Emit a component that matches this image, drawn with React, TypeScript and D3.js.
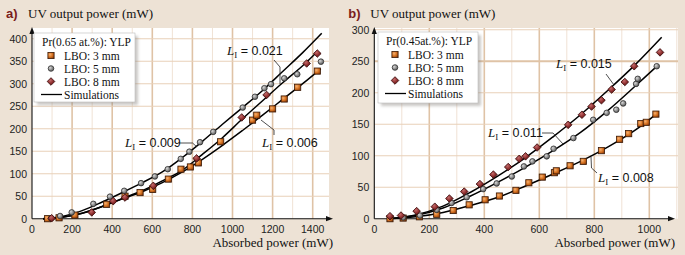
import React from 'react';
import * as d3 from 'd3';

type P = [number, number];

// ---------- Panel a data ----------
const A_X_TICKS = [0, 200, 400, 600, 800, 1000, 1200, 1400];
const A_Y_TICKS = [0, 50, 100, 150, 200, 250, 300, 350, 400];
const A_LEGEND_TITLE = 'Pr(0.65 at.%): YLP';

const A_LBO3: P[] = [
  [78, 0], [135, 2], [214, 8], [372, 32], [464, 50], [539, 58], [602, 65], [680, 88],
  [743, 110], [790, 115], [830, 124], [941, 171], [1100, 219], [1121, 230], [1200, 244],
  [1258, 266], [1325, 292], [1423, 328],
];
const A_LBO5: P[] = [
  [95, 1], [140, 6], [198, 14], [306, 33], [389, 49], [460, 62], [544, 79], [613, 94],
  [677, 110], [742, 133], [785, 149], [838, 170], [904, 193], [1051, 247], [1112, 271],
  [1159, 290], [1192, 299], [1258, 312], [1323, 321], [1441, 349],
];
const A_LBO8: P[] = [
  [98, 1], [298, 14], [405, 39], [464, 47], [605, 73], [821, 134], [1046, 225],
  [1170, 275], [1370, 345], [1423, 367],
];
const A_SIM_009: P[] = [
  [55, 0], [150, 5], [250, 18], [350, 37], [450, 58], [550, 80], [650, 104], [750, 136],
  [850, 172], [950, 210], [1050, 247], [1150, 285], [1250, 327], [1350, 369], [1445, 412],
];
const A_SIM_021: P[] = [
  [55, 0], [150, 3], [250, 12], [350, 27], [450, 45], [550, 62], [650, 84], [750, 108],
  [850, 143], [950, 180], [1050, 222], [1150, 262], [1250, 302], [1350, 340], [1420, 370],
];
const A_SIM_006: P[] = [
  [55, 0], [150, 3], [250, 12], [350, 27], [450, 44], [550, 60], [650, 80], [750, 104],
  [850, 132], [950, 163], [1050, 196], [1150, 230], [1250, 265], [1350, 300], [1440, 333],
];

// ---------- Panel b data ----------
const B_X_TICKS = [0, 200, 400, 600, 800, 1000];
const B_Y_TICKS = [0, 50, 100, 150, 200, 250, 300];
const B_LEGEND_TITLE = 'Pr(0.45at.%): YLP';

const B_LBO3: P[] = [
  [57, 0], [105, 1], [164, 3], [227, 7], [287, 13], [345, 22], [403, 30], [455, 36],
  [515, 45], [562, 57], [611, 66], [655, 73], [662, 76], [712, 84], [760, 91], [826, 108],
  [892, 126], [925, 135], [969, 151], [989, 153], [1024, 166],
];
const B_LBO5: P[] = [
  [105, 2], [166, 5], [227, 14], [281, 25], [336, 34], [396, 47], [445, 56], [500, 67],
  [544, 83], [575, 91], [627, 99], [652, 111], [724, 128], [796, 157], [845, 168],
  [880, 173], [905, 183], [952, 214], [958, 222], [1027, 242],
];
const B_LBO8: P[] = [
  [57, 4], [97, 5], [154, 12], [220, 19], [273, 32], [327, 43], [384, 55], [433, 70],
  [487, 82], [527, 95], [550, 99], [592, 113], [705, 149], [755, 165], [790, 178],
  [826, 188], [863, 205], [911, 217], [945, 242], [1039, 264],
];
const B_SIM_015: P[] = [
  [50, 0], [150, 6], [250, 20], [350, 42], [450, 68], [550, 97], [650, 130], [750, 165],
  [850, 204], [950, 245], [1045, 288],
];
const B_SIM_011: P[] = [
  [50, 0], [150, 5], [250, 17], [350, 36], [450, 58], [550, 82], [650, 108], [750, 137],
  [850, 172], [950, 211], [1030, 243],
];
const B_SIM_008: P[] = [
  [50, 0], [150, 3], [250, 10], [350, 21], [450, 34], [550, 52], [650, 71], [750, 91],
  [850, 114], [950, 141], [1025, 166],
];

const SERIES_LABELS = ['LBO: 3 mm', 'LBO: 5 mm', 'LBO: 8 mm', 'Simulations'];
const Y_TITLE = 'UV output power (mW)';
const X_TITLE = 'Absorbed power (mW)';

const SERIF = '"Liberation Serif", "DejaVu Serif", serif';
const SANS = '"Liberation Sans", Arial, sans-serif';
const BG = '#ede2d5';
const GRID_MAJ = '#dfc3a6';
const GRID_MIN = '#f0e2d4';
const GRID_H = '#e8d0b8';

type Shape = 'square' | 'circle' | 'diamond';

function Marker({ x, y, shape }: { x: number; y: number; shape: Shape }) {
  if (shape === 'square')
    return <rect x={x - 3.1} y={y - 3.1} width={6.2} height={6.2} fill="url(#gSq)" stroke="#3a1804" strokeWidth={0.8} />;
  if (shape === 'circle')
    return <circle cx={x} cy={y} r={2.8} fill="url(#gCi)" stroke="#2e2e2e" strokeWidth={0.8} />;
  const s = 3.8;
  return (
    <path d={`M${x},${y - s}L${x + s},${y}L${x},${y + s}L${x - s},${y}Z`} fill="url(#gDi)" stroke="#360808" strokeWidth={0.8} />
  );
}

function LI({ x, y, val }: { x: number; y: number; val: string }) {
  return (
    <text x={x} y={y} fontFamily={SERIF} fontSize={13} fill="#111">
      <tspan fontStyle="italic">L</tspan>
      <tspan fontSize={9} dy={2.5}>I</tspan>
      <tspan dy={-2.5} fontFamily={SANS} fontSize={12.5}> = {val}</tspan>
    </text>
  );
}

type PanelProps = {
  letter: string;
  x: d3.ScaleLinear<number, number>;
  y: d3.ScaleLinear<number, number>;
  xTicks: number[];
  yTicks: number[];
  xGridMax: number;
  yGridMax: number;
  plotRight: number;
  plotTop: number;
  arrowX: number;
  series: [P[], P[], P[]];
  sims: P[][];
  legendTitle: string;
  legend: { x: number; y: number; w: number; h: number };
  majorH: number[];
  children?: React.ReactNode;
};

function Panel(p: PanelProps) {
  const { x, y } = p;
  const x0 = x(0);
  const y0 = y(0);
  const line = d3
    .line<P>()
    .x((d) => x(d[0]))
    .y((d) => y(d[1]))
    .curve(d3.curveCatmullRom.alpha(0.5));
  const vLines = d3.range(100, p.xGridMax + 1, 100);
  const hLines = d3.range(50, p.yGridMax + 1, 50);
  const shapes: Shape[] = ['square', 'circle', 'diamond'];
  const L = p.legend;
  return (
    <g>
      <text x={x0 - 26} y={18} fontFamily={SANS} fontWeight="bold" fontSize={13} fill="#7a1c1c">
        {p.letter}
      </text>
      <text x={x0 - 4} y={18} fontFamily={SERIF} fontSize={13} fill="#111">
        {Y_TITLE}
      </text>
      <rect x={x0} y={p.plotTop} width={p.plotRight - x0} height={y0 - p.plotTop} fill="#fff" />
      {vLines.map((v) => (
        <line key={'v' + v} x1={x(v)} x2={x(v)} y1={p.plotTop} y2={y0}
          stroke={v % 200 === 0 ? GRID_MAJ : GRID_MIN} strokeWidth={v % 200 === 0 ? 1.6 : 1} />
      ))}
      {hLines.map((v) => (
        <line key={'h' + v} x1={x0} x2={p.plotRight} y1={y(v)} y2={y(v)}
          stroke={p.majorH.includes(v) ? GRID_MAJ : GRID_H} strokeWidth={p.majorH.includes(v) ? 2 : 1.1} />
      ))}
      {/* axes */}
      <line x1={x0} x2={x0} y1={y0} y2={p.plotTop + 4} stroke="#111" strokeWidth={1.1} />
      <path d={`M${x0},${p.plotTop - 1}L${x0 + 2.6},${p.plotTop + 6}L${x0 - 2.6},${p.plotTop + 6}Z`} fill="#111" />
      <line x1={x0} x2={p.arrowX - 4} y1={y0} y2={y0} stroke="#111" strokeWidth={1.1} />
      <path d={`M${p.arrowX},${y0}L${p.arrowX - 7},${y0 - 2.6}L${p.arrowX - 7},${y0 + 2.6}Z`} fill="#111" />
      {p.xTicks.map((t) => (
        <text key={'xt' + t} x={x(t)} y={y0 + 14} textAnchor="middle" fontFamily={SANS} fontSize={10.5} fill="#222">
          {t}
        </text>
      ))}
      {p.yTicks.map((t) => (
        <text key={'yt' + t} x={x0 - 5} y={y(t) + 3.8} textAnchor="end" fontFamily={SANS} fontSize={10.5} fill="#222">
          {t}
        </text>
      ))}
      <text x={p.arrowX} y={247} textAnchor="end" fontFamily={SERIF} fontSize={13} fill="#111">
        {X_TITLE}
      </text>
      {p.sims.map((s, i) => (
        <path key={'s' + i} d={line(s) || ''} fill="none" stroke="#000" strokeWidth={1.5} />
      ))}
      {p.series.map((ser, i) =>
        ser.map((d, j) => <Marker key={i + '-' + j} x={x(d[0])} y={y(d[1])} shape={shapes[i]} />)
      )}
      {p.children}
      {/* legend */}
      <rect x={L.x + 3} y={L.y + 3} width={L.w} height={L.h} fill="#8a8580" opacity={0.45} filter="url(#blur)" />
      <rect x={L.x} y={L.y} width={L.w} height={L.h} fill="#fff" stroke="#bbb" strokeWidth={0.6} />
      <text x={L.x + 8} y={L.y + 13} fontFamily={SERIF} fontSize={11.5} fill="#111">
        {p.legendTitle}
      </text>
      {shapes.map((sh, i) => (
        <g key={'lg' + i}>
          <Marker x={L.x + 17} y={L.y + 22.5 + i * 13} shape={sh} />
          <text x={L.x + 30} y={L.y + 26.5 + i * 13} fontFamily={SERIF} fontSize={11.5} fill="#111">
            {SERIES_LABELS[i]}
          </text>
        </g>
      ))}
      <line x1={L.x + 7} x2={L.x + 28} y1={L.y + 61.5} y2={L.y + 61.5} stroke="#000" strokeWidth={1.3} />
      <text x={L.x + 30} y={L.y + 65.5} fontFamily={SERIF} fontSize={11.5} fill="#111">
        {SERIES_LABELS[3]}
      </text>
    </g>
  );
}

export default function App() {
  const xA = d3.scaleLinear().domain([0, 1400]).range([32, 312.7]);
  const yA = d3.scaleLinear().domain([0, 400]).range([218.7, 38.7]);
  const xB = d3.scaleLinear().domain([0, 1000]).range([374.3, 649.3]);
  const yB = d3.scaleLinear().domain([0, 300]).range([218.7, 29.7]);
  const lead = (pts: P[]) => pts.map((d) => d.join(',')).join(' ');
  return (
    <svg width={685} height={255} style={{ position: 'absolute', left: 0, top: 0 }}>
      <defs>
        <radialGradient id="gSq" cx="35%" cy="35%" r="75%">
          <stop offset="0%" stopColor="#f6b070" />
          <stop offset="55%" stopColor="#d4701f" />
          <stop offset="100%" stopColor="#8a3a0a" />
        </radialGradient>
        <radialGradient id="gCi" cx="35%" cy="35%" r="75%">
          <stop offset="0%" stopColor="#d8d8d8" />
          <stop offset="55%" stopColor="#8c8c8c" />
          <stop offset="100%" stopColor="#505050" />
        </radialGradient>
        <radialGradient id="gDi" cx="40%" cy="35%" r="75%">
          <stop offset="0%" stopColor="#c46a6a" />
          <stop offset="55%" stopColor="#8a2a2a" />
          <stop offset="100%" stopColor="#4a1010" />
        </radialGradient>
        <filter id="blur" x="-10%" y="-10%" width="120%" height="120%">
          <feGaussianBlur stdDeviation="1.5" />
        </filter>
      </defs>
      <rect x={0} y={0} width={685} height={255} fill={BG} />
      <Panel
        letter="a)"
        x={xA}
        y={yA}
        xTicks={A_X_TICKS}
        yTicks={A_Y_TICKS}
        xGridMax={1400}
        yGridMax={400}
        plotRight={329}
        plotTop={28}
        arrowX={333}
        series={[A_LBO3, A_LBO5, A_LBO8]}
        sims={[A_SIM_009, A_SIM_021, A_SIM_006]}
        legendTitle={A_LEGEND_TITLE}
        legend={{ x: 34, y: 33, w: 101, h: 69 }}
        majorH={[]}
      >
        <LI x={227} y={55} val="0.021" />
        <polyline points={lead([[274, 60], [280, 67], [280, 84]])} fill="none" stroke="#222" strokeWidth={0.8} />
        <LI x={125} y={147} val="0.009" />
        <polyline points={lead([[179, 143], [192.5, 143], [197, 147]])} fill="none" stroke="#222" strokeWidth={0.8} />
        <LI x={262} y={147} val="0.006" />
        <polyline points={lead([[261, 120], [274, 130], [274, 135]])} fill="none" stroke="#222" strokeWidth={0.8} />
      </Panel>
      <Panel
        letter="b)"
        x={xB}
        y={yB}
        xTicks={B_X_TICKS}
        yTicks={B_Y_TICKS}
        xGridMax={1100}
        yGridMax={300}
        plotRight={678}
        plotTop={28}
        arrowX={675}
        series={[B_LBO3, B_LBO5, B_LBO8]}
        sims={[B_SIM_015, B_SIM_011, B_SIM_008]}
        legendTitle={B_LEGEND_TITLE}
        legend={{ x: 378, y: 32, w: 100, h: 71 }}
        majorH={[250]}
      >
        <LI x={556} y={68} val="0.015" />
        <polyline points={lead([[606, 74], [614, 85]])} fill="none" stroke="#222" strokeWidth={0.8} />
        <LI x={488} y={137} val="0.011" />
        <polyline points={lead([[542, 133], [553, 133], [563, 144]])} fill="none" stroke="#222" strokeWidth={0.8} />
        <LI x={598} y={182} val="0.008" />
        <polyline points={lead([[591, 157], [591.5, 168], [597, 173]])} fill="none" stroke="#222" strokeWidth={0.8} />
      </Panel>
    </svg>
  );
}
